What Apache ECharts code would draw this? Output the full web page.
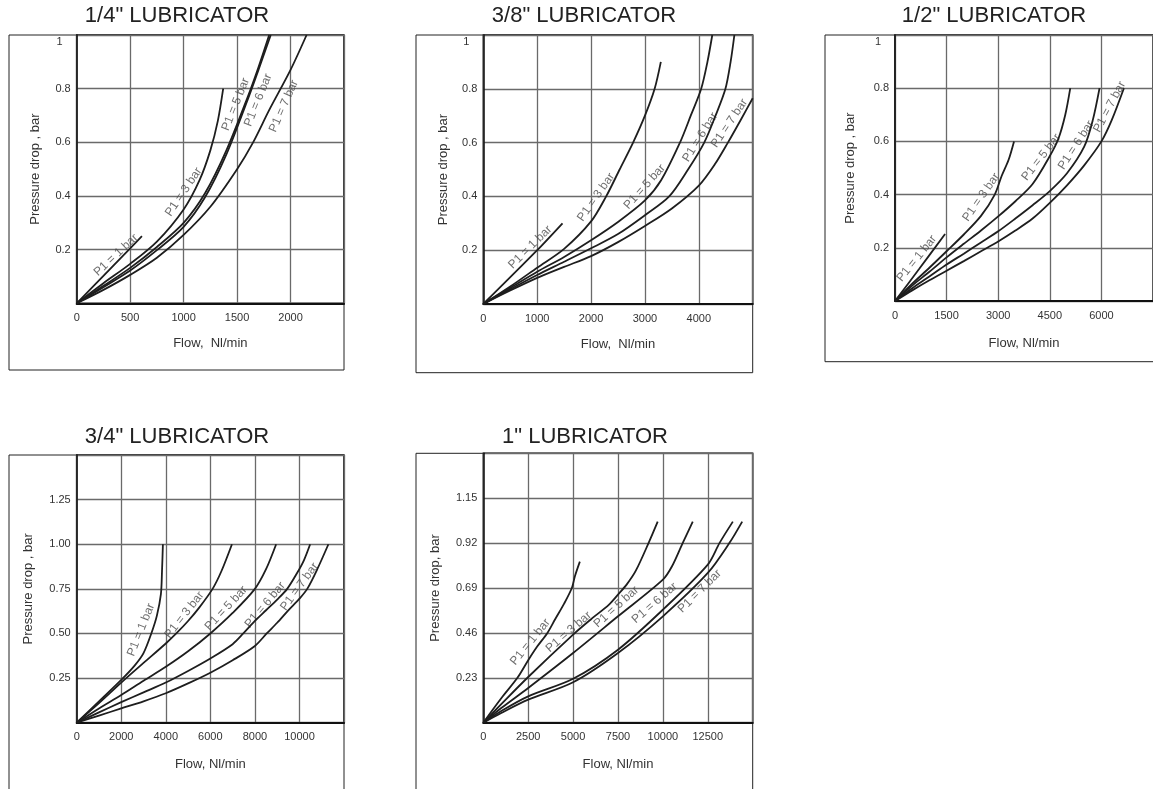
<!DOCTYPE html>
<html>
<head>
<meta charset="utf-8">
<script src="https://cdn.jsdelivr.net/npm/echarts@6/dist/echarts.min.js"></script>
<style>
html,body{margin:0;padding:0;background:#fff;}
#chart{width:1153px;height:789px;}
</style>
</head>
<body>
<div id="chart"></div>
<script>
// ---------- DATA ----------
const titles = ['1/4" LUBRICATOR', '3/8" LUBRICATOR', '1/2" LUBRICATOR', '3/4" LUBRICATOR', '1" LUBRICATOR'];
const curveNames = ['P1 = 1 bar', 'P1 = 3 bar', 'P1 = 5 bar', 'P1 = 6 bar', 'P1 = 7 bar'];
const yNames = ['Pressure drop , bar', 'Pressure drop , bar', 'Pressure drop , bar', 'Pressure drop , bar', 'Pressure drop, bar'];
const xNames = ['Flow,  Nl/min', 'Flow,  Nl/min', 'Flow, Nl/min', 'Flow, Nl/min', 'Flow, Nl/min'];

// axis ranges [min, max, interval]
const xRanges = [[0, 2500, 500], [0, 5000, 1000], [0, 7500, 1500], [0, 12000, 2000], [0, 15000, 2500]];
const yRanges = [[0, 1, 0.2], [0, 1, 0.2], [0, 1, 0.2], [0, 1.5, 0.25], [0, 1.38, 0.23]];

// 1/4" lubricator  [flow Nl/min, pressure drop bar]
const l14_p1 = [[0,0],[300,0.123],[500,0.205],[610,0.25]];
const l14_p3 = [[0,0],[250,0.075],[500,0.147],[750,0.23],[1000,0.35],[1150,0.46],[1250,0.57],[1320,0.68],[1370,0.8]];
const l14_p5 = [[0,0],[250,0.065],[500,0.132],[750,0.21],[1000,0.3],[1200,0.41],[1400,0.57],[1600,0.77],[1700,0.88],[1800,1.0]];
const l14_p6 = [[0,0],[250,0.06],[500,0.122],[750,0.198],[1000,0.285],[1200,0.395],[1400,0.555],[1600,0.76],[1700,0.87],[1815,1.0]];
const l14_p7 = [[0,0],[250,0.05],[500,0.106],[750,0.17],[1000,0.255],[1250,0.36],[1500,0.5],[1650,0.6],[1800,0.72],[2000,0.87],[2150,1.0]];

// 3/8" lubricator
const l38_p1 = [[0,0],[1000,0.2],[1470,0.3]];
const l38_p3 = [[0,0],[500,0.065],[1000,0.135],[1500,0.205],[2000,0.307],[2280,0.4],[2530,0.5],[2780,0.6],[3000,0.7],[3180,0.8],[3295,0.9]];
const l38_p5 = [[0,0],[500,0.06],[1000,0.12],[1500,0.175],[2000,0.237],[2500,0.305],[3000,0.385],[3300,0.46],[3650,0.6],[3850,0.7],[4044,0.8],[4160,0.9],[4250,1.0]];
const l38_p6 = [[0,0],[500,0.055],[1000,0.108],[1500,0.157],[2000,0.207],[2500,0.26],[3000,0.33],[3450,0.4],[3800,0.5],[4100,0.6],[4310,0.7],[4494,0.8],[4590,0.9],[4660,1.0]];
const l38_p7 = [[0,0],[500,0.05],[1000,0.097],[1500,0.138],[2000,0.178],[2500,0.23],[3000,0.29],[3500,0.355],[4000,0.44],[4300,0.52],[4540,0.6],[4780,0.685],[5000,0.765]];

// 1/2" lubricator
const l12_p1 = [[0,0],[700,0.12],[1456,0.252]];
const l12_p3 = [[0,0],[500,0.065],[1000,0.125],[1500,0.187],[2000,0.25],[2500,0.32],[2900,0.4],[3100,0.47],[3300,0.53],[3460,0.6]];
const l12_p5 = [[0,0],[500,0.058],[1000,0.11],[1500,0.164],[2000,0.215],[2500,0.265],[3000,0.318],[3500,0.375],[4000,0.44],[4500,0.545],[4750,0.61],[4950,0.7],[5095,0.8]];
const l12_p6 = [[0,0],[500,0.048],[1000,0.092],[1500,0.137],[2000,0.178],[2500,0.22],[3000,0.262],[3500,0.31],[4000,0.36],[4500,0.413],[5000,0.48],[5500,0.58],[5750,0.68],[5946,0.8]];
const l12_p7 = [[0,0],[500,0.04],[1000,0.078],[1500,0.114],[2000,0.15],[2500,0.187],[3000,0.224],[3500,0.265],[4000,0.31],[4500,0.369],[5000,0.435],[5500,0.51],[6000,0.6],[6300,0.68],[6654,0.8]];

// 3/4" lubricator
const l34_p1 = [[0,0],[1000,0.12],[2000,0.24],[2600,0.32],[3000,0.39],[3350,0.5],[3600,0.6],[3780,0.72],[3830,0.85],[3870,1.0]];
const l34_p3 = [[0,0],[1000,0.11],[2000,0.225],[3000,0.335],[4000,0.444],[4470,0.5],[5000,0.57],[5500,0.645],[6100,0.75],[6500,0.85],[6970,1.0]];
const l34_p5 = [[0,0],[1000,0.08],[2000,0.155],[3000,0.235],[4000,0.313],[5000,0.4],[6000,0.5],[7000,0.615],[8000,0.75],[8500,0.86],[8954,1.0]];
const l34_p6 = [[0,0],[1000,0.058],[2000,0.115],[3000,0.17],[4000,0.225],[5000,0.29],[6000,0.36],[7000,0.44],[7480,0.5],[8000,0.57],[8500,0.63],[9000,0.69],[9450,0.75],[9900,0.84],[10200,0.91],[10480,1.0]];
const l34_p7 = [[0,0],[1000,0.04],[2000,0.08],[3000,0.12],[4000,0.165],[5000,0.22],[6000,0.28],[7000,0.35],[8000,0.43],[8530,0.5],[9000,0.56],[9500,0.63],[10000,0.695],[10350,0.75],[10800,0.86],[11300,1.0]];

// 1" lubricator
const l1_p1 = [[0,0],[1000,0.125],[1900,0.23],[2500,0.32],[3000,0.39],[3570,0.46],[4000,0.53],[4500,0.61],[4930,0.69],[5100,0.75],[5376,0.825]];
const l1_p3 = [[0,0],[1000,0.095],[2500,0.234],[5000,0.451],[6000,0.53],[7000,0.605],[7500,0.656],[8000,0.71],[8500,0.78],[9200,0.92],[9710,1.03]];
const l1_p5 = [[0,0],[1000,0.075],[2500,0.178],[5000,0.357],[7500,0.545],[10000,0.733],[10500,0.8],[11100,0.92],[11663,1.03]];
const l1_p6 = [[0,0],[1000,0.06],[2500,0.135],[5000,0.225],[7500,0.374],[10000,0.579],[12500,0.81],[13150,0.92],[13895,1.03]];
const l1_p7 = [[0,0],[1000,0.05],[2500,0.118],[5000,0.207],[7500,0.357],[10000,0.545],[12500,0.767],[13700,0.92],[14416,1.03]];

// curve label anchor points (data units) per panel, in curveNames order
const l14_labels = [[368,0.18],[1000,0.415],[1487,0.741],[1697,0.757],[1937,0.735]];
const l38_labels = [[870,0.211],[2093,0.397],[2994,0.436],[4026,0.62],[4568,0.672]];
const l12_labels = [[633,0.16],[2504,0.39],[4253,0.54],[5266,0.586],[6238,0.73]];
const l34_labels = [[2888,0.52],[4833,0.604],[6706,0.641],[8457,0.66],[10000,0.762]];
const l1_labels  = [[2617,0.413],[4755,0.465],[7405,0.593],[9543,0.613],[12049,0.673]];

const panelCurves = [
  [l14_p1, l14_p3, l14_p5, l14_p6, l14_p7],
  [l38_p1, l38_p3, l38_p5, l38_p6, l38_p7],
  [l12_p1, l12_p3, l12_p5, l12_p6, l12_p7],
  [l34_p1, l34_p3, l34_p5, l34_p6, l34_p7],
  [l1_p1, l1_p3, l1_p5, l1_p6, l1_p7]
];
const panelLabels = [l14_labels, l38_labels, l12_labels, l34_labels, l1_labels];

// ---------- LAYOUT / STYLE ----------
const grids = [
  {left: 76.7, top: 35, width: 267.3, height: 268.3},
  {left: 483.3, top: 35, width: 269.4, height: 269},
  {left: 895, top: 35, width: 264.5, height: 266},
  {left: 76.7, top: 455, width: 267.3, height: 267.7},
  {left: 483.3, top: 453.3, width: 269.4, height: 269.4}
];
const frames = [
  [9, 35, 335, 335], [416, 35, 336.7, 337.7], [825, 35, 340, 326.7],
  [9, 455, 335, 340], [416, 453.3, 336.7, 345]
];
const titlePos = [[177, 16], [584, 16], [994, 16], [177, 437], [585, 437]];
const yNameGap = [35, 33, 38, 42, 41];
const xNameGap = [34, 34, 36, 35, 35];
const labelAngles = [
  [43, 56, 68, 68, 66],
  [45, 55, 48, 58, 56],
  [51, 55, 52, 57, 62],
  [68, 52, 47, 50, 54],
  [51, 41, 42, 41, 45]
];
const FONT = '"Liberation Sans", Arial, Helvetica, sans-serif';

const chart = echarts.init(document.getElementById('chart'));

const xAxis = [], yAxis = [], series = [], graphic = [];
grids.forEach((g, i) => {
  xAxis.push({
    gridIndex: i, type: 'value', min: xRanges[i][0], max: xRanges[i][1], interval: xRanges[i][2],
    name: xNames[i], nameLocation: 'middle', nameGap: xNameGap[i],
    nameTextStyle: {fontFamily: FONT, fontSize: 13, color: '#333'},
    axisLine: {show: true, onZero: false, lineStyle: {color: '#111', width: 2}},
    axisTick: {show: false},
    axisLabel: {fontFamily: FONT, fontSize: 11, color: '#333', margin: 9, showMaxLabel: false,
      formatter: v => String(Math.round(v))},
    splitLine: {show: true, lineStyle: {color: '#6a6a6a', width: 1.3}}
  });
  const dec = i >= 3;
  yAxis.push({
    gridIndex: i, type: 'value', min: yRanges[i][0], max: yRanges[i][1], interval: yRanges[i][2],
    name: yNames[i], nameLocation: 'middle', nameGap: yNameGap[i],
    nameTextStyle: {fontFamily: FONT, fontSize: 13, color: '#333'},
    axisLine: {show: true, onZero: false, lineStyle: {color: '#111', width: 1.5}},
    axisTick: {show: false},
    axisLabel: {
      fontFamily: FONT, fontSize: 11, color: '#333', margin: 6,
      showMinLabel: false, showMaxLabel: !dec,
      formatter: v => {
        if (dec) return (+v).toFixed(2);
        const s = String(+(+v).toFixed(2));
        return (+v === 1) ? '{top|' + s + '}' : s;
      },
      rich: {top: {fontFamily: FONT, fontSize: 11, color: '#333', padding: [14, 8, 0, 0]}}
    },
    splitLine: {show: true, lineStyle: {color: '#6a6a6a', width: 1.3}}
  });
  panelCurves[i].forEach((data, k) => {
    series.push({
      type: 'line', xAxisIndex: i, yAxisIndex: i, name: curveNames[k],
      data: data, showSymbol: false, symbol: 'none',
      smooth: 0.3, silent: true,
      lineStyle: {color: '#1e1e1e', width: 1.8}
    });
  });
  series.push({
    type: 'scatter', xAxisIndex: i, yAxisIndex: i, symbolSize: 0, silent: true,
    data: panelLabels[i].map((p, k) => ({
      value: p, name: curveNames[k],
      label: {rotate: labelAngles[i][k]}
    })),
    label: {
      show: true, position: 'inside', formatter: p => p.name,
      fontFamily: FONT, fontSize: 12, color: '#4a4a4a'
    }
  });
  const f = frames[i];
  graphic.push({
    type: 'rect', silent: true, z: 0,
    shape: {x: f[0], y: f[1], width: f[2], height: f[3]},
    style: {fill: 'none', stroke: '#222', lineWidth: 1}
  });
  graphic.push({
    type: 'text', silent: true, x: titlePos[i][0], y: titlePos[i][1],
    style: {text: titles[i], font: '22px ' + FONT, fill: '#222', align: 'center', verticalAlign: 'middle'}
  });
});

chart.setOption({
  animation: false,
  backgroundColor: '#fff',
  grid: grids.map(g => Object.assign({show: true, borderColor: '#222', borderWidth: 1.5, backgroundColor: 'transparent'}, g)),
  xAxis, yAxis, series, graphic
});
</script>
</body>
</html>
